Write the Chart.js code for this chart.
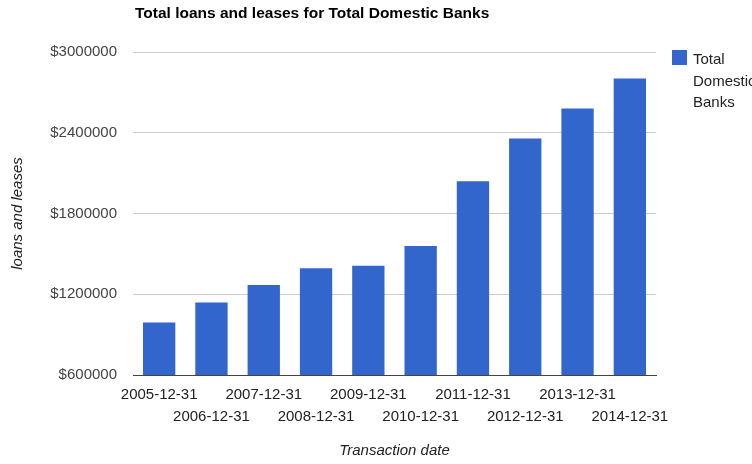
<!DOCTYPE html>
<html>
<head>
<meta charset="utf-8">
<script src="https://cdn.jsdelivr.net/npm/chart.js@4.4.0/dist/chart.umd.min.js"></script>
<style>
    html, body { margin: 0; padding: 0; background: #fff; }
    #wrap { width: 752px; height: 464px; }
</style>
</head>
<body>
<div id="wrap"><canvas id="loansChart" width="752" height="464"></canvas></div>
<script>
// Data
const dates = ['2005-12-31', '2006-12-31', '2007-12-31', '2008-12-31', '2009-12-31',
               '2010-12-31', '2011-12-31', '2012-12-31', '2013-12-31', '2014-12-31'];
const loans = [990000, 1139000, 1268000, 1394000, 1411000, 1559000, 2039000, 2358000, 2581000, 2803000];
const yTicks = [600000, 1200000, 1800000, 2400000, 3000000];
const seriesName = 'Total Domestic Banks';
const chartTitle = 'Total loans and leases for Total Domestic Banks';

const FONT = 'Arial, "Liberation Sans", sans-serif';
const BLUE = '#3366cc';

// title + wrapped legend drawn by hand, like the Google chart
const extras = {
    id: 'extras',
    afterDraw(chart) {
        const ctx = chart.ctx;
        const area = chart.chartArea;
        ctx.save();
        ctx.fillStyle = '#000';
        ctx.font = 'bold 15.5px ' + FONT;
        ctx.textBaseline = 'middle';
        ctx.textAlign = 'left';
        ctx.fillText(chartTitle, area.left + 2, 14);

        ctx.fillStyle = BLUE;
        ctx.fillRect(area.right + 16, 50, 15, 15);
        ctx.fillStyle = '#222';
        ctx.font = '15px ' + FONT;
        const words = seriesName.split(' ');
        words.forEach((w, i) => ctx.fillText(w, area.right + 37, 60 + i * 21.5));
        ctx.restore();
    }
};

new Chart(document.getElementById('loansChart'), {
    type: 'bar',
    data: {
        labels: dates,
        datasets: [{
            label: seriesName,
            data: loans,
            backgroundColor: BLUE,
            borderWidth: 0,
            categoryPercentage: 1,
            barPercentage: 0.618
        }]
    },
    options: {
        responsive: false,
        animation: false,
        layout: { padding: { top: 52, right: 96, left: 0, bottom: 0 } },
        plugins: {
            legend: { display: false },
            title: { display: false },
            tooltip: { enabled: false }
        },
        scales: {
            x: {
                grid: { display: false, drawTicks: false },
                border: { display: true, color: '#444', width: 1 },
                afterFit: s => { s.height = 89; },
                ticks: {
                    autoSkip: false,
                    maxRotation: 0,
                    minRotation: 0,
                    padding: 9,
                    color: '#222',
                    font: { family: FONT, size: 15, lineHeight: 22 / 15 },
                    callback: (v, i) => i % 2 === 0 ? [dates[i], ''] : ['', dates[i]]
                },
                title: {
                    display: true,
                    text: 'Transaction date',
                    color: '#222',
                    padding: { bottom: 4, top: 0 },
                    font: { family: FONT, size: 15, style: 'italic' }
                }
            },
            y: {
                min: yTicks[0],
                max: yTicks[yTicks.length - 1],
                afterFit: s => { s.width = 133; },
                afterBuildTicks: s => { s.ticks = yTicks.map(v => ({ value: v })); },
                grid: {
                    drawTicks: false,
                    color: ctx => ctx.index === 0 ? '#444' : '#cccccc',
                    lineWidth: 1
                },
                border: { display: false },
                ticks: {
                    padding: 16,
                    color: '#444',
                    font: { family: FONT, size: 15 },
                    callback: v => '$' + v
                },
                title: {
                    display: true,
                    text: 'loans and leases',
                    color: '#222',
                    padding: { top: 9, bottom: 0 },
                    font: { family: FONT, size: 15, style: 'italic' }
                }
            }
        }
    },
    plugins: [extras]
});
</script>
</body>
</html>
